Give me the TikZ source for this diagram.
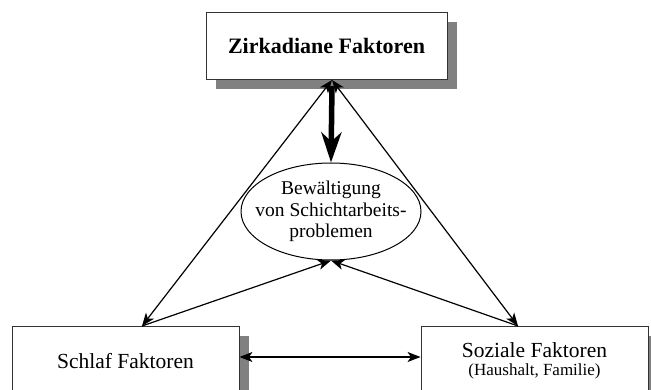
\documentclass[tikz,border=0pt]{standalone}
\usepackage{fontspec}
\setmainfont{Liberation Serif}
\usetikzlibrary{arrows.meta,shapes.geometric,shadows,calc}
\begin{document}
\begin{tikzpicture}[x=1pt,y=-1pt,
  box/.style={draw=black!80, line width=0.9pt, fill=white, rectangle, inner sep=0pt, align=center},
  shbox/.style={drop shadow={shadow xshift=10pt, shadow yshift=-10pt, fill=black!50, opacity=1}},
  tip/.tip={Stealth[length=13pt,width=10pt,inset=3.5pt]},
  arr/.style={line width=1.2pt, -tip},
  darr/.style={line width=1.2pt, tip-tip},
  thickarr/.style={line width=5.5pt, -{Stealth[length=30pt,width=20pt,inset=9pt]}},
  ell/.style={draw=black, line width=1pt, ellipse, fill=white, inner xsep=-14pt, inner ysep=0pt,
              align=center, minimum width=180pt, minimum height=97pt}
]
\useasboundingbox (0,0) rectangle (651,390);

\node[box, shbox, minimum width=241pt, minimum height=67pt,
      font=\fontsize{22}{26}\selectfont\bfseries] (zirk) at (326.5,45.5)
  {Zirkadiane Faktoren};
\node[box, shbox, minimum width=227pt, minimum height=70pt,
      font=\fontsize{21.5}{24}\selectfont] (schlaf) at (125.5,361)
  {Schlaf Faktoren};
\node[box, shbox, minimum width=227pt, minimum height=70pt,
      font=\fontsize{21.5}{18}\selectfont] (soz) at (534.5,361)
  {Soziale Faktoren\\{\fontsize{17}{18}\selectfont (Haushalt, Familie)}};
\node[ell, font=\fontsize{19.5}{21.5}\selectfont] (bew) at (331,211.5)
  {Bewältigung\\von Schichtarbeits-\\problemen};

\coordinate (zb) at (332,80);
\coordinate (zs) at (332,86);
\coordinate (sa) at (142,326);
\coordinate (za) at (518,326);
\coordinate (hy) at (0,357);

\draw[darr] (zb) -- (sa);
\draw[darr] (zb) -- (za);
\draw[thickarr] (zs) -- (bew.north);
\draw[arr] (sa) -- (bew.south);
\draw[arr] (za) -- (bew.south);
\draw[darr] (schlaf.east |- hy) -- (soz.west |- hy);
\end{tikzpicture}
\end{document}
